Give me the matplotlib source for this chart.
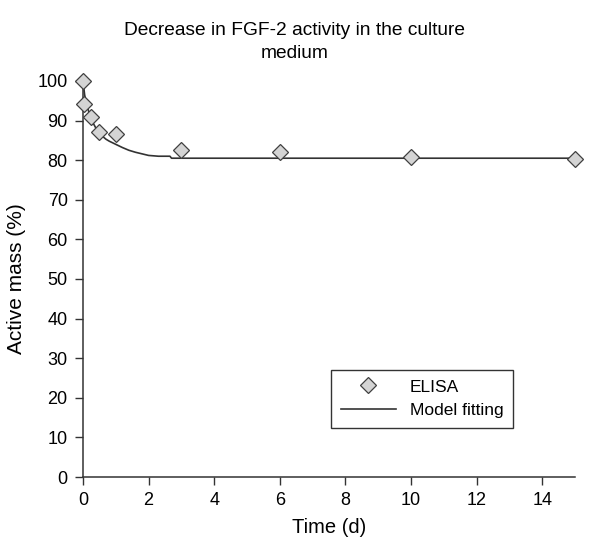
import matplotlib
matplotlib.use("Agg")
import matplotlib.pyplot as plt

# -----------------------------
# Data
# -----------------------------

elisa_time = [0, 0.04, 0.25, 0.5, 1, 3, 6, 10, 15]
elisa_mass = [100, 94.1, 90.8, 87.2, 86.6, 82.6, 82.0, 80.9, 80.4]

model_time = [0, 0.05, 0.1, 0.2, 0.3, 0.4, 0.5, 0.6, 0.7, 0.8, 1.0, 1.2,
              1.4, 1.6, 1.8, 2.0, 2.3, 2.65, 2.7, 15]
model_mass = [100, 96.5, 94.5, 91.5, 89.5, 88.0, 87.0, 86.0, 85.3, 84.8,
              84.0, 83.2, 82.5, 82.0, 81.6, 81.2, 81.0, 81.0, 80.5, 80.5]

x_ticks = [0, 2, 4, 6, 8, 10, 12, 14]
y_ticks = list(range(0, 101, 10))

# -----------------------------
# Plot
# -----------------------------

plt.rcParams["font.family"] = ["Liberation Sans", "DejaVu Sans"]

fig = plt.figure(figsize=(5.89, 5.42), dpi=100)
ax = fig.add_axes([0.1409, 0.1199, 0.8353, 0.7307])

ax.plot(model_time, model_mass, color="#333333", lw=1.2,
        label="Model fitting", zorder=2)
ax.plot(elisa_time, elisa_mass, linestyle="none", marker="D", markersize=8,
        markerfacecolor="#d4d4d4", markeredgecolor="#404040",
        markeredgewidth=0.9, label="ELISA", clip_on=False, zorder=3)

ax.set_xlim(0, 15)
ax.set_ylim(0, 100)
ax.set_xticks(x_ticks)
ax.set_yticks(y_ticks)
ax.tick_params(labelsize=13, length=6, width=1, color="#333333", pad=5)

for side in ["top", "right"]:
    ax.spines[side].set_visible(False)
for side in ["left", "bottom"]:
    ax.spines[side].set_color("#333333")
    ax.spines[side].set_linewidth(1.1)

ax.set_xlabel("Time (d)", fontsize=14.5, labelpad=6)
ax.set_ylabel("Active mass (%)", fontsize=15, labelpad=8)

fig.text(0.5, 0.922, "Decrease in FGF-2 activity in the culture\nmedium",
         ha="center", va="center", fontsize=13.8, linespacing=1.45)

handles, labels = ax.get_legend_handles_labels()
leg = ax.legend(handles[::-1], labels[::-1], loc="lower left",
                bbox_to_anchor=(0.504, 0.124, 0.37, 0.166), mode="expand",
                borderaxespad=0, fontsize=12.5, fancybox=False, framealpha=1,
                edgecolor="#333333", handlelength=3.2, labelspacing=0.5,
                borderpad=0.55)
leg.get_frame().set_linewidth(1.0)

fig.savefig("out.png", dpi=100)
